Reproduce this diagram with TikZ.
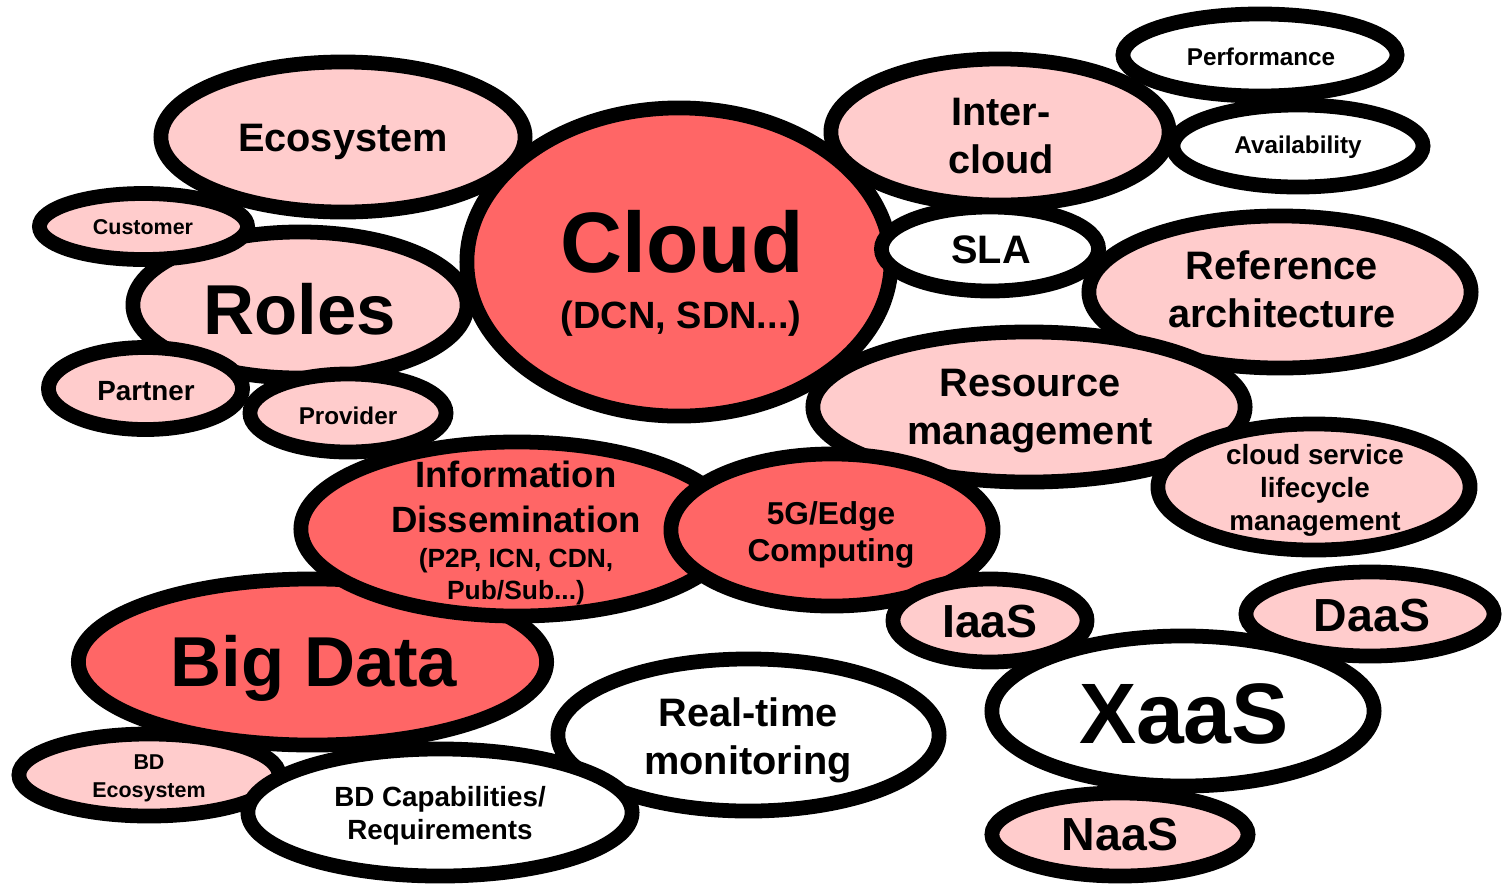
\documentclass[tikz,border=0pt]{standalone}
\usepackage{fontspec}
\setmainfont{Liberation Sans}
\usepackage{tikz}
\usetikzlibrary{shapes.geometric}

\begin{document}
\begin{tikzpicture}[x=0.01cm,y=-0.01cm]
\tikzstyle{bubble}=[ellipse,draw=black,line width=4.2pt,inner sep=0pt]
\tikzstyle{hot}=[bubble,fill=red!60]
\tikzstyle{soft}=[bubble,fill=red!20]
\tikzstyle{blank}=[bubble,fill=white]
\tikzstyle{txt}=[align=center,inner sep=0pt]
\tikzstyle{t24}=[txt,font=\bfseries\fontsize{24.4}{29}\selectfont]
\tikzstyle{t20}=[txt,font=\bfseries\fontsize{20.1}{24}\selectfont]
\tikzstyle{t13}=[txt,font=\bfseries\fontsize{13.2}{16}\selectfont]
\tikzstyle{t11}=[txt,font=\bfseries\fontsize{11.3}{13.6}\selectfont]
\tikzstyle{t9}=[txt,font=\bfseries\fontsize{9}{10.5}\selectfont]
\tikzstyle{t8}=[txt,font=\bfseries\fontsize{7.9}{9.4}\selectfont]
\tikzstyle{t7}=[txt,font=\bfseries\fontsize{6.9}{8.3}\selectfont]
\tikzstyle{t6}=[txt,font=\bfseries\fontsize{6.1}{8}\selectfont]
\useasboundingbox (0,0) rectangle (1502,884);

% roles corner
\node[soft,minimum width=3.64cm,minimum height=1.50cm] (ecosys) at (343,137) {};
\node[t11] (ecosys-t) at (343,142) {Ecosystem};
\node[soft,minimum width=3.34cm,minimum height=1.46cm] (roles) at (300,305) {};
\node[t20] (roles-t) at (300,309) {Roles};
\node[soft,minimum width=2.08cm,minimum height=0.66cm] (customer) at (143.5,226.5) {};
\node[t6] (customer-t) at (143,227) {Customer};
\node[soft,minimum width=1.94cm,minimum height=0.82cm] (partner) at (145.5,388.5) {};
\node[t8] (partner-t) at (146,391) {Partner};
\node[soft,minimum width=1.96cm,minimum height=0.78cm] (provider) at (348,413) {};
\node[t7] (provider-t) at (348,416) {Provider};

% cloud and friends
\node[soft,minimum width=3.38cm,minimum height=1.46cm] (inter) at (1000,132) {};
\node[t11] (inter-t) at (1001,136) {Inter-\\cloud};
\node[blank,minimum width=2.74cm,minimum height=0.82cm] (perf) at (1260,55) {};
\node[t7] (perf-t) at (1261,57) {Performance};
\node[blank,minimum width=2.50cm,minimum height=0.82cm] (avail) at (1298,146) {};
\node[t7] (avail-t) at (1298,147) {Availability};
\node[hot,minimum width=4.24cm,minimum height=3.08cm] (cloud) at (679,262) {};
\node[t24] (cloud-t) at (682,242) {Cloud};
\node[txt,font=\bfseries\fontsize{10.8}{13}\selectfont] (dcn) at (681,319) {(DCN, SDN...)};
\node[blank,minimum width=2.17cm,minimum height=0.84cm] (sla) at (990,249) {};
\node[t11] (sla-t) at (991,250) {SLA};
\node[soft,minimum width=3.82cm,minimum height=1.52cm] (refarch) at (1280,292) {};
\node[t11] (refarch-t) at (1282,289) {Reference\\architecture};
\node[soft,minimum width=4.32cm,minimum height=1.50cm] (resmgmt) at (1029,407) {};
\node[t11] (resmgmt-t) at (1030,411) {Resource\\management};
\node[soft,minimum width=3.12cm,minimum height=1.26cm] (lifecycle) at (1314,487) {};
\node[t8] (lifecycle-t) at (1315,490) {cloud service\\lifecycle\\management};

% big data side
\node[hot,minimum width=4.68cm,minimum height=1.66cm] (bigdata) at (312.5,662) {};
\node[t20] (bigdata-t) at (314,668) {Big Data};
\node[hot,minimum width=4.32cm,minimum height=1.74cm] (infodiss) at (517,529) {};
\node[txt,font=\bfseries\fontsize{10.4}{12.8}\selectfont] (infodiss-t) at (516,497) {Information\\Dissemination};
\node[txt,font=\bfseries\fontsize{7.5}{9.1}\selectfont] (infodiss-s) at (516,577) {(P2P, ICN, CDN,\\Pub/Sub...)};
\node[hot,minimum width=3.22cm,minimum height=1.52cm] (edge) at (832,530) {};
\node[t9] (edge-t) at (831,535) {5G/Edge\\Computing};
\node[blank,minimum width=3.81cm,minimum height=1.52cm] (realtime) at (748.5,735) {};
\node[t11] (realtime-t) at (748,740) {Real-time\\monitoring};
\node[soft,minimum width=2.60cm,minimum height=0.82cm] (bdeco) at (149,775) {};
\node[t6] (bdeco-t) at (149,778) {BD\\Ecosystem};
\node[blank,minimum width=3.84cm,minimum height=1.27cm] (bdcap) at (440,812.5) {};
\node[t8] (bdcap-t) at (440,816) {BD Capabilities/\\Requirements};

% services
\node[blank,minimum width=3.82cm,minimum height=1.50cm] (xaas) at (1183,711) {};
\node[t24] (xaas-t) at (1184,714) {XaaS};
\node[soft,minimum width=1.94cm,minimum height=0.83cm] (iaas) at (990,620.5) {};
\node[t13] (iaas-t) at (990,622) {IaaS};
\node[soft,minimum width=2.48cm,minimum height=0.84cm] (daas) at (1370,614) {};
\node[t13] (daas-t) at (1372,616) {DaaS};
\node[soft,minimum width=2.56cm,minimum height=0.83cm] (naas) at (1120,834.5) {};
\node[t13] (naas-t) at (1120,835) {NaaS};
\end{tikzpicture}
\end{document}
